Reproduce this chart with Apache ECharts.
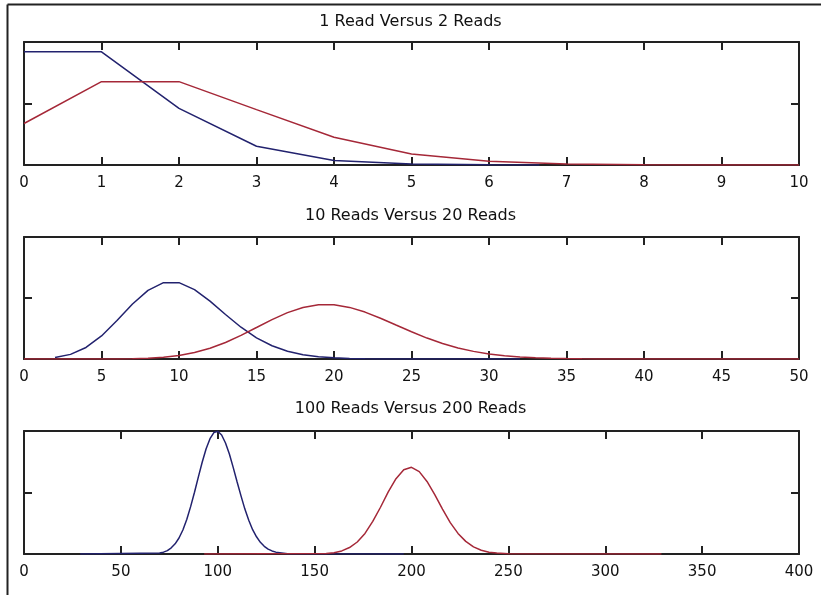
<!DOCTYPE html>
<html><head><meta charset="utf-8">
<script src="https://cdn.jsdelivr.net/npm/echarts@6/dist/echarts.min.js"></script>
<style>html,body{margin:0;padding:0;background:#fff}#c{width:821px;height:595px}</style>
</head><body><div id="c"></div>
<script>
// ---- data ----
const titles = ['1 Read Versus 2 Reads', '10 Reads Versus 20 Reads', '100 Reads Versus 200 Reads'];
const xMaxes = [10, 50, 400];
const xSteps = [1, 5, 50];
const yMaxes = [0.4, 0.2, 0.04];

// panel 1 : 1 read (blue) vs 2 reads (red)
const p1BlueX = [0, 1, 2, 3, 4, 5, 6, 6.65];
const p1BlueY = [0.368, 0.368, 0.184, 0.061, 0.015, 0.003, 0.0005, 0];
const p1RedX = [0, 1, 2, 3, 4, 5, 6, 7, 8, 9, 10];
const p1RedY = [0.135, 0.271, 0.271, 0.180, 0.090, 0.036, 0.012, 0.0034, 0.0009, 0.0002, 0];

// panel 2 : 10 reads (blue) vs 20 reads (red)
const p2BlueX = [2,3,4,5,6,7,8,9,10,11,12,13,14,15,16,17,18,19,20,21,22,23,24,25,26,27,28,29,30,31,32];
const p2BlueY = [0.0023,0.0076,0.0189,0.0378,0.0631,0.0901,0.1126,0.1251,0.1251,0.1137,0.0948,0.0729,0.0521,0.0347,0.0217,0.0128,0.0071,0.0037,0.0019,0.0009,0.0004,0.0002,0.0001,0,0,0,0,0,0,0,0];
const p2RedX = [0,1,2,3,4,5,6,7,8,9,10,11,12,13,14,15,16,17,18,19,20,21,22,23,24,25,26,27,28,29,30,31,32,33,34,35,36,37,38,39,40,41,42,43,44,45,46,47,48,49,50];
const p2RedY = [0,0,0,0,0,0.0001,0.0002,0.0005,0.0013,0.0029,0.0058,0.0106,0.0176,0.0271,0.0387,0.0516,0.0646,0.0760,0.0844,0.0888,0.0888,0.0846,0.0769,0.0669,0.0557,0.0446,0.0343,0.0254,0.0181,0.0125,0.0083,0.0054,0.0034,0.0020,0.0012,0.0007,0.0004,0.0002,0.0001,0.0001,0,0,0,0,0,0,0,0,0,0,0];

// panel 3 : 100 reads (blue) vs 200 reads (red)
const p3BlueX = [29,70,72,74,76,78,80,82,84,86,88,90,92,94,96,98,100,102,104,106,108,110,112,114,116,118,120,122,124,126,128,130,136,196];
const p3BlueY = [0,0.0003,0.0006,0.0011,0.0020,0.0033,0.0052,0.0078,0.0112,0.0154,0.0201,0.0251,0.0299,0.0342,0.0375,0.0395,0.0399,0.0387,0.0361,0.0325,0.0281,0.0234,0.0189,0.0146,0.0110,0.0079,0.0056,0.0038,0.0025,0.0016,0.0010,0.0006,0.0001,0];
const p3RedX = [93,156,160,164,168,172,176,180,184,188,192,196,200,204,208,212,216,220,224,228,232,236,240,244,250,329];
const p3RedY = [0,0.0002,0.0004,0.0010,0.0021,0.0039,0.0067,0.0106,0.0152,0.0202,0.0245,0.0274,0.0282,0.0268,0.0236,0.0193,0.0146,0.0102,0.0067,0.0041,0.0023,0.0012,0.0006,0.0003,0.0001,0];

const blueSets = [[p1BlueX, p1BlueY], [p2BlueX, p2BlueY], [p3BlueX, p3BlueY]];
const redSets = [[p1RedX, p1RedY], [p2RedX, p2RedY], [p3RedX, p3RedY]];

// ---- layout / style ----
const gridTops = [42, 237, 431];
const gridHeights = [123, 122, 123];
const titleTops = [14, 208, 401];
const BLUE = '#22226e';
const RED = '#a52838';
const AX = '#222';
const FONT = 'DejaVu Sans';

const pairs = (xs, ys) => xs.map((x, i) => [x, ys[i]]);

const grid = [], xAxis = [], yAxis = [], series = [], title = [];
for (let p = 0; p < 3; p++) {
  grid.push({left: 24, right: 22, top: gridTops[p], height: gridHeights[p], show: true, backgroundColor: '#fff', borderWidth: 0});
  title.push({text: titles[p], left: 'center', top: titleTops[p], padding: 0,
    textStyle: {fontFamily: FONT, fontSize: 16, fontWeight: 'normal', color: '#111', lineHeight: 16}});
  const xBase = {type: 'value', gridIndex: p, min: 0, max: xMaxes[p], interval: xSteps[p],
    splitLine: {show: false},
    axisLine: {show: true, onZero: false, lineStyle: {color: AX, width: 2}},
    axisTick: {show: true, inside: true, length: 8, lineStyle: {color: AX, width: 2}}};
  xAxis.push(Object.assign({}, xBase, {position: 'bottom',
    axisLabel: {show: true, margin: 11, color: '#111', fontFamily: FONT, fontSize: 15, showMinLabel: true, showMaxLabel: true}}));
  xAxis.push(Object.assign({}, xBase, {position: 'top', axisLabel: {show: false}}));
  const yBase = {type: 'value', gridIndex: p, min: 0, max: yMaxes[p], interval: yMaxes[p] / 2,
    splitLine: {show: false}, axisLabel: {show: false},
    axisLine: {show: true, onZero: false, lineStyle: {color: AX, width: 2}},
    axisTick: {show: true, inside: true, length: 8, lineStyle: {color: AX, width: 2}}};
  yAxis.push(Object.assign({}, yBase, {position: 'left'}));
  yAxis.push(Object.assign({}, yBase, {position: 'right'}));
  series.push({type: 'line', xAxisIndex: 2 * p, yAxisIndex: 2 * p, data: pairs(blueSets[p][0], blueSets[p][1]),
    showSymbol: false, symbol: 'none', lineStyle: {color: BLUE, width: 1.5}, itemStyle: {color: BLUE}, z: 5, silent: true});
  series.push({type: 'line', xAxisIndex: 2 * p, yAxisIndex: 2 * p, data: pairs(redSets[p][0], redSets[p][1]),
    showSymbol: false, symbol: 'none', lineStyle: {color: RED, width: 1.5}, itemStyle: {color: RED}, z: 6, silent: true});
}

const chart = echarts.init(document.getElementById('c'), null, {renderer: 'canvas'});
chart.setOption({
  animation: false,
  backgroundColor: '#fff',
  title, grid, xAxis, yAxis, series,
  graphic: [
    {type: 'line', shape: {x1: 7.5, y1: 4.5, x2: 821, y2: 4.5}, style: {stroke: AX, lineWidth: 2}, silent: true},
    {type: 'line', shape: {x1: 7.5, y1: 4.5, x2: 7.5, y2: 595}, style: {stroke: AX, lineWidth: 2}, silent: true}
  ]
});
</script>
</body></html>
